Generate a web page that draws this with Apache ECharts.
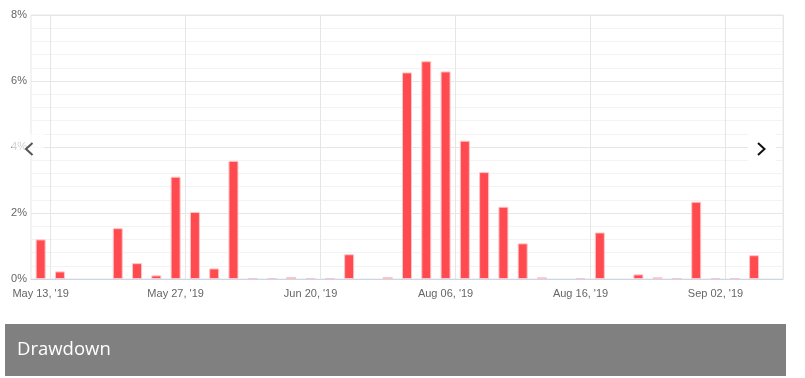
<!DOCTYPE html>
<html>
<head>
<meta charset="utf-8">
<script src="https://cdn.jsdelivr.net/npm/echarts@6/dist/echarts.min.js"></script>
<style>
  html, body { margin: 0; padding: 0; background: #fff; }
  #chart { width: 805px; height: 378px; }
</style>
</head>
<body>
<div id="chart"></div>
<script>
// trading days shown on the category axis
const dates = [
  "May 13, '19", "May 14, '19", "May 15, '19", "May 16, '19", "May 20, '19", "May 22, '19", "May 24, '19",
  "May 27, '19", "May 29, '19", "Jun 03, '19", "Jun 05, '19", "Jun 10, '19", "Jun 12, '19", "Jun 17, '19",
  "Jun 20, '19", "Jun 25, '19", "Jul 01, '19", "Jul 09, '19", "Jul 16, '19", "Jul 23, '19", "Jul 29, '19",
  "Aug 06, '19", "Aug 07, '19", "Aug 08, '19", "Aug 09, '19", "Aug 12, '19", "Aug 13, '19", "Aug 14, '19",
  "Aug 16, '19", "Aug 19, '19", "Aug 21, '19", "Aug 23, '19", "Aug 26, '19", "Aug 28, '19", "Aug 30, '19",
  "Sep 02, '19", "Sep 04, '19", "Sep 06, '19", "Sep 09, '19"
];

// drawdown in percent (null = no bar)
const drawdown = [
  1.2, 0.23, null, null, 1.54, 0.48, 0.11,
  3.1, 2.03, 0.32, 3.58, 0.03, 0.03, 0.06,
  0.03, 0.03, 0.75, null, 0.06, 6.26, 6.6,
  6.29, 4.19, 3.24, 2.19, 1.08, 0.05, null,
  0.03, 1.41, null, 0.14, 0.05, 0.03, 2.34,
  0.03, 0.03, 0.72, null
];

const yTicks = [0, 2, 4, 6, 8];

const chart = echarts.init(document.getElementById("chart"));

const option = {
  animation: false,
  grid: {
    left: 31,
    right: 22,
    top: 15,
    bottom: 99,
    show: true,
    borderColor: "#e6e6e6",
    borderWidth: 1
  },
  xAxis: {
    type: "category",
    data: dates,
    boundaryGap: true,
    axisLine: { lineStyle: { color: "#ccd6eb", width: 1 } },
    axisTick: { show: false },
    axisLabel: {
      interval: (i) => i % 7 === 0,
      color: "#666",
      fontSize: 11,
      fontFamily: "Arial, 'Liberation Sans', sans-serif",
      margin: 9
    },
    splitLine: {
      show: true,
      interval: (i) => i % 7 === 1,
      lineStyle: { color: "#e6e6e6", width: 1 }
    }
  },
  yAxis: {
    type: "value",
    min: yTicks[0],
    max: yTicks[yTicks.length - 1],
    interval: 2,
    axisLine: { show: false },
    axisTick: { show: false },
    axisLabel: {
      formatter: "{value}%",
      color: "#666",
      fontSize: 11,
      fontFamily: "Arial, 'Liberation Sans', sans-serif",
      margin: 4
    },
    splitLine: { lineStyle: { color: "#e6e6e6" } },
    minorTick: { show: false, splitNumber: 5 },
    minorSplitLine: { show: true, lineStyle: { color: "#f3f3f3" } }
  },
  series: [
    {
      name: "Drawdown",
      type: "bar",
      data: drawdown,
      barWidth: 10,
      itemStyle: {
        color: "#ff4a4f",
        borderColor: "#ffc4c4",
        borderWidth: 1
      }
    }
  ],
  graphic: [
    // carousel arrows with their backing boxes
    {
      type: "rect",
      z: 100,
      shape: { x: 12, y: 134, width: 32, height: 22 },
      style: { fill: "rgba(255,255,255,0.7)" }
    },
    {
      type: "polyline",
      z: 101,
      shape: { points: [[32.5, 143], [26, 149], [32.5, 155]] },
      style: { stroke: "#555", lineWidth: 2, fill: null }
    },
    {
      type: "rect",
      z: 100,
      shape: { x: 748, y: 133, width: 28, height: 29 },
      style: { fill: "rgba(255,255,255,0.95)" }
    },
    {
      type: "polyline",
      z: 101,
      shape: { points: [[758, 143], [764.5, 149], [758, 155]] },
      style: { stroke: "#111", lineWidth: 2, fill: null }
    },
    // title strip under the chart
    {
      type: "rect",
      z: 100,
      shape: { x: 5, y: 324, width: 781, height: 52 },
      style: { fill: "#808080" }
    },
    {
      type: "text",
      z: 101,
      x: 17,
      y: 350,
      style: {
        text: "Drawdown",
        fill: "#fff",
        fontSize: 18.5,
        fontFamily: "'Open Sans', sans-serif",
        verticalAlign: "middle"
      }
    }
  ]
};

chart.setOption(option);
</script>
</body>
</html>
